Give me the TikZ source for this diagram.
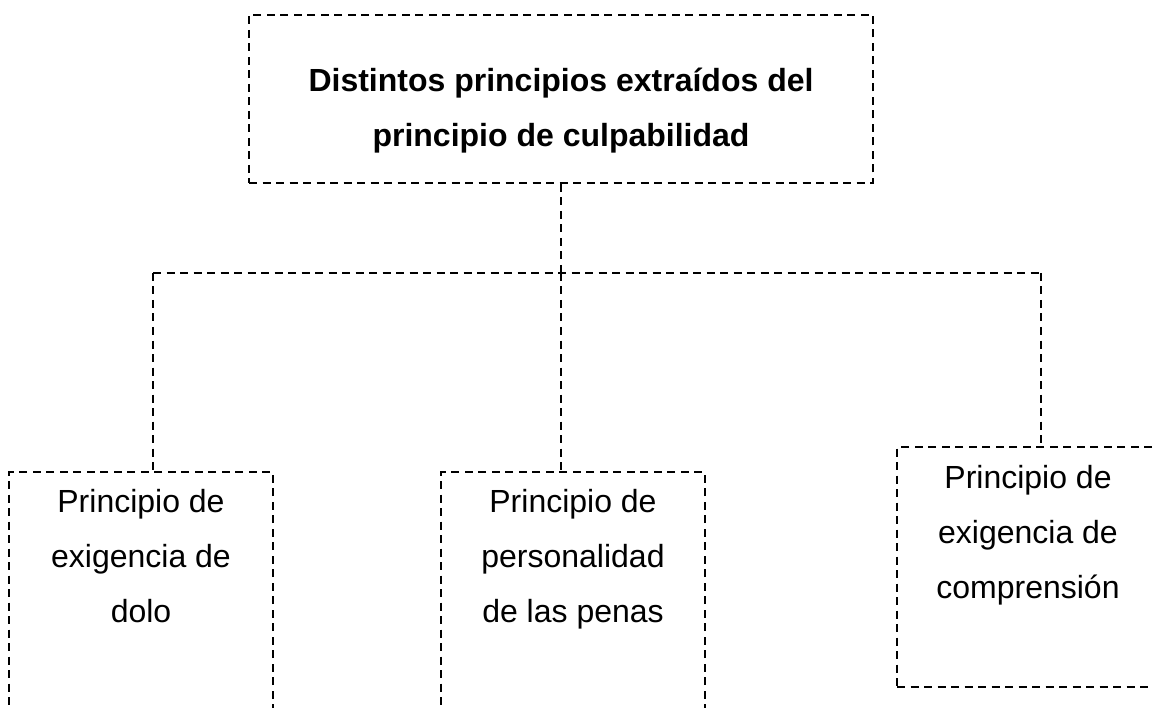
\documentclass[tikz,border=0pt]{standalone}
\usepackage{fontspec}
\setmainfont{Liberation Sans}
\newcommand\mytopstrut{\rule{0pt}{26pt}}
\newcommand\mybotstrut{\rule[-8pt]{0pt}{8pt}}
\begin{document}
\begin{tikzpicture}[x=1pt,y=-1pt,
  dline/.style={draw=black,line width=2pt,dash pattern=on 8pt off 5.5pt},
  boxnode/.style={dline,rectangle,inner sep=0pt,minimum width=#1},
  txt/.style={inner sep=0pt,align=center,font=\fontsize{32}{55}\selectfont}]
\clip (0,0) rectangle (1153,708);
\fill[white] (0,0) rectangle (1153,708);
% boxes
\node[boxnode=624pt,minimum height=168pt] (top) at (561,99) {};
\node[boxnode=264pt,minimum height=300pt] (left) at (141,622) {};
\node[boxnode=264pt,minimum height=300pt] (mid) at (573,622) {};
\node[boxnode=264pt,minimum height=240pt] (right) at (1029,567) {};
% texts
\node[txt,font=\fontsize{32}{55}\selectfont\bfseries] (ttop) at (561,110.5)
  {\mytopstrut Distintos principios extraídos del\\principio de culpabilidad\mybotstrut};
\node[txt] (tleft) at (141,558) {\mytopstrut Principio de\\exigencia de\\dolo\mybotstrut};
\node[txt] (tmid) at (573,558) {\mytopstrut Principio de\\personalidad\\de las penas\mybotstrut};
\node[txt] (tright) at (1028,534) {\mytopstrut Principio de\\exigencia de\\comprensión\mybotstrut};
% connectors
\coordinate (bus) at (561,273);
\coordinate (jl) at (153,273);
\coordinate (jr) at (1041,273);
\draw[dline] (top.south) -- (bus);
\draw[dline] (jl) -- (jr);
\draw[dline] (jl) -- (jl |- left.north);
\draw[dline] (bus) -- (bus |- mid.north);
\draw[dline] (jr) -- (jr |- right.north);
\end{tikzpicture}
\end{document}
